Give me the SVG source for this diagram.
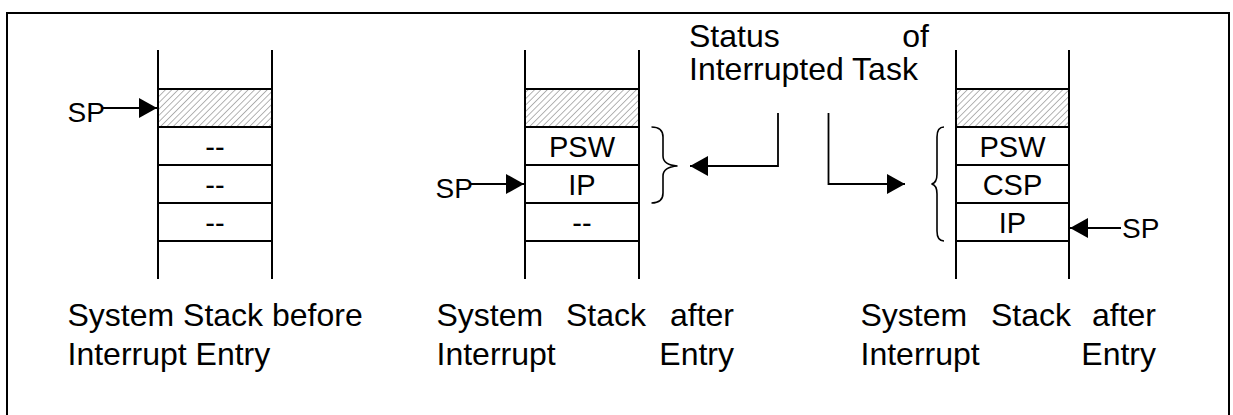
<svg xmlns="http://www.w3.org/2000/svg" width="1233" height="415" viewBox="0 0 1233 415">
  <style>
    .t { font-family: "Liberation Sans", Arial, sans-serif; fill: #000; }
    .cell { font-size: 29px; text-anchor: middle; }
    .lbl { font-size: 32px; }
    .sp { font-size: 28px; }
    .end { text-anchor: end; }
    .ln { stroke: #000; stroke-width: 2; fill: none; }
    .con { stroke: #000; stroke-width: 1.8; fill: none; }
    .brace { stroke: #000; stroke-width: 1.6; fill: none; }
  </style>
  <defs>
    <pattern id="hatch" patternUnits="userSpaceOnUse" width="4.5" height="4.5" patternTransform="rotate(45)">
      <rect width="4.5" height="4.5" fill="#fff"/>
      <line x1="0" y1="0" x2="0" y2="4.5" stroke="#6a6a6a" stroke-width="1"/>
    </pattern>
    <marker id="ah" viewBox="0 0 18 20" refX="18" refY="10" markerWidth="18" markerHeight="20" markerUnits="userSpaceOnUse" orient="auto">
      <path d="M0,0 L18,10 L0,20 Z" fill="#000"/>
    </marker>
  </defs>

  <rect width="1233" height="415" fill="#fff"/>
  <g id="frame">
    <path class="ln" d="M7,416 L7,13 L1229,13 L1229,416"/>
  </g>

  <g id="stack1">
    <rect x="158" y="89" width="114" height="38" fill="url(#hatch)"/>
    <line class="ln" x1="158" y1="50" x2="158" y2="279"/>
    <line class="ln" x1="272" y1="50" x2="272" y2="279"/>
    <line class="ln" x1="158" y1="89" x2="272" y2="89"/>
    <line class="ln" x1="158" y1="127" x2="272" y2="127"/>
    <line class="ln" x1="158" y1="165" x2="272" y2="165"/>
    <line class="ln" x1="158" y1="203" x2="272" y2="203"/>
    <line class="ln" x1="158" y1="241" x2="272" y2="241"/>
    <text class="t cell" x="215" y="157">--</text>
    <text class="t cell" x="215" y="195">--</text>
    <text class="t cell" x="215" y="233">--</text>
  </g>

  <g id="stack2">
    <rect x="525" y="89" width="114" height="38" fill="url(#hatch)"/>
    <line class="ln" x1="525" y1="50" x2="525" y2="279"/>
    <line class="ln" x1="639" y1="50" x2="639" y2="279"/>
    <line class="ln" x1="525" y1="89" x2="639" y2="89"/>
    <line class="ln" x1="525" y1="127" x2="639" y2="127"/>
    <line class="ln" x1="525" y1="165" x2="639" y2="165"/>
    <line class="ln" x1="525" y1="203" x2="639" y2="203"/>
    <line class="ln" x1="525" y1="241" x2="639" y2="241"/>
    <text class="t cell" x="582" y="157">PSW</text>
    <text class="t cell" x="582" y="195">IP</text>
    <text class="t cell" x="582" y="233">--</text>
  </g>

  <g id="stack3">
    <rect x="956" y="89" width="113" height="38" fill="url(#hatch)"/>
    <line class="ln" x1="956" y1="50" x2="956" y2="279"/>
    <line class="ln" x1="1069" y1="50" x2="1069" y2="279"/>
    <line class="ln" x1="956" y1="89" x2="1069" y2="89"/>
    <line class="ln" x1="956" y1="127" x2="1069" y2="127"/>
    <line class="ln" x1="956" y1="165" x2="1069" y2="165"/>
    <line class="ln" x1="956" y1="203" x2="1069" y2="203"/>
    <line class="ln" x1="956" y1="241" x2="1069" y2="241"/>
    <text class="t cell" x="1012.5" y="157">PSW</text>
    <text class="t cell" x="1012.5" y="195">CSP</text>
    <text class="t cell" x="1012.5" y="233">IP</text>
  </g>

  <g id="brace2">
    <path class="brace" d="M651.5,127 Q663,127 663,137 L663,156 Q663,165 677.5,166 Q663,167 663,176 L663,193 Q663,203 651.5,203"/>
  </g>
  <g id="brace3">
    <path class="brace" d="M944,127 Q937,127 937,137 L937,174 Q937,183 931.5,184 Q937,185 937,194 L937,231 Q937,241 944,241"/>
  </g>

  <g id="sp-labels">
    <text class="t sp" x="67.5" y="122">SP</text>
    <text class="t sp" x="435.5" y="198">SP</text>
    <text class="t sp" x="1122" y="238">SP</text>
  </g>

  <g id="status-label">
    <text class="t lbl" x="689" y="47">Status</text>
    <text class="t lbl end" x="929" y="47">of</text>
    <text class="t lbl" x="689" y="80">Interrupted Task</text>
  </g>

  <g id="caption1">
    <text class="t lbl" x="67.5" y="326">System Stack before</text>
    <text class="t lbl" x="67.5" y="365">Interrupt Entry</text>
  </g>
  <g id="caption2">
    <text class="t lbl" x="436.5" y="326">System</text>
    <text class="t lbl" x="566" y="326">Stack</text>
    <text class="t lbl end" x="734" y="326">after</text>
    <text class="t lbl" x="436.5" y="365">Interrupt</text>
    <text class="t lbl end" x="734" y="365">Entry</text>
  </g>
  <g id="caption3">
    <text class="t lbl" x="860.5" y="326">System</text>
    <text class="t lbl" x="991" y="326">Stack</text>
    <text class="t lbl end" x="1156" y="326">after</text>
    <text class="t lbl" x="860.5" y="365">Interrupt</text>
    <text class="t lbl end" x="1156" y="365">Entry</text>
  </g>

  <g id="connectors">
    <line class="con" x1="103" y1="108" x2="157" y2="108" marker-end="url(#ah)"/>
    <line class="con" x1="471" y1="184" x2="524" y2="184" marker-end="url(#ah)"/>
    <line class="con" x1="1121" y1="228" x2="1070" y2="228" marker-end="url(#ah)"/>
    <polyline class="con" points="778,113 778,166 690,166" marker-end="url(#ah)"/>
    <polyline class="con" points="828.5,113 828.5,184 905,184" marker-end="url(#ah)"/>
  </g>
</svg>
